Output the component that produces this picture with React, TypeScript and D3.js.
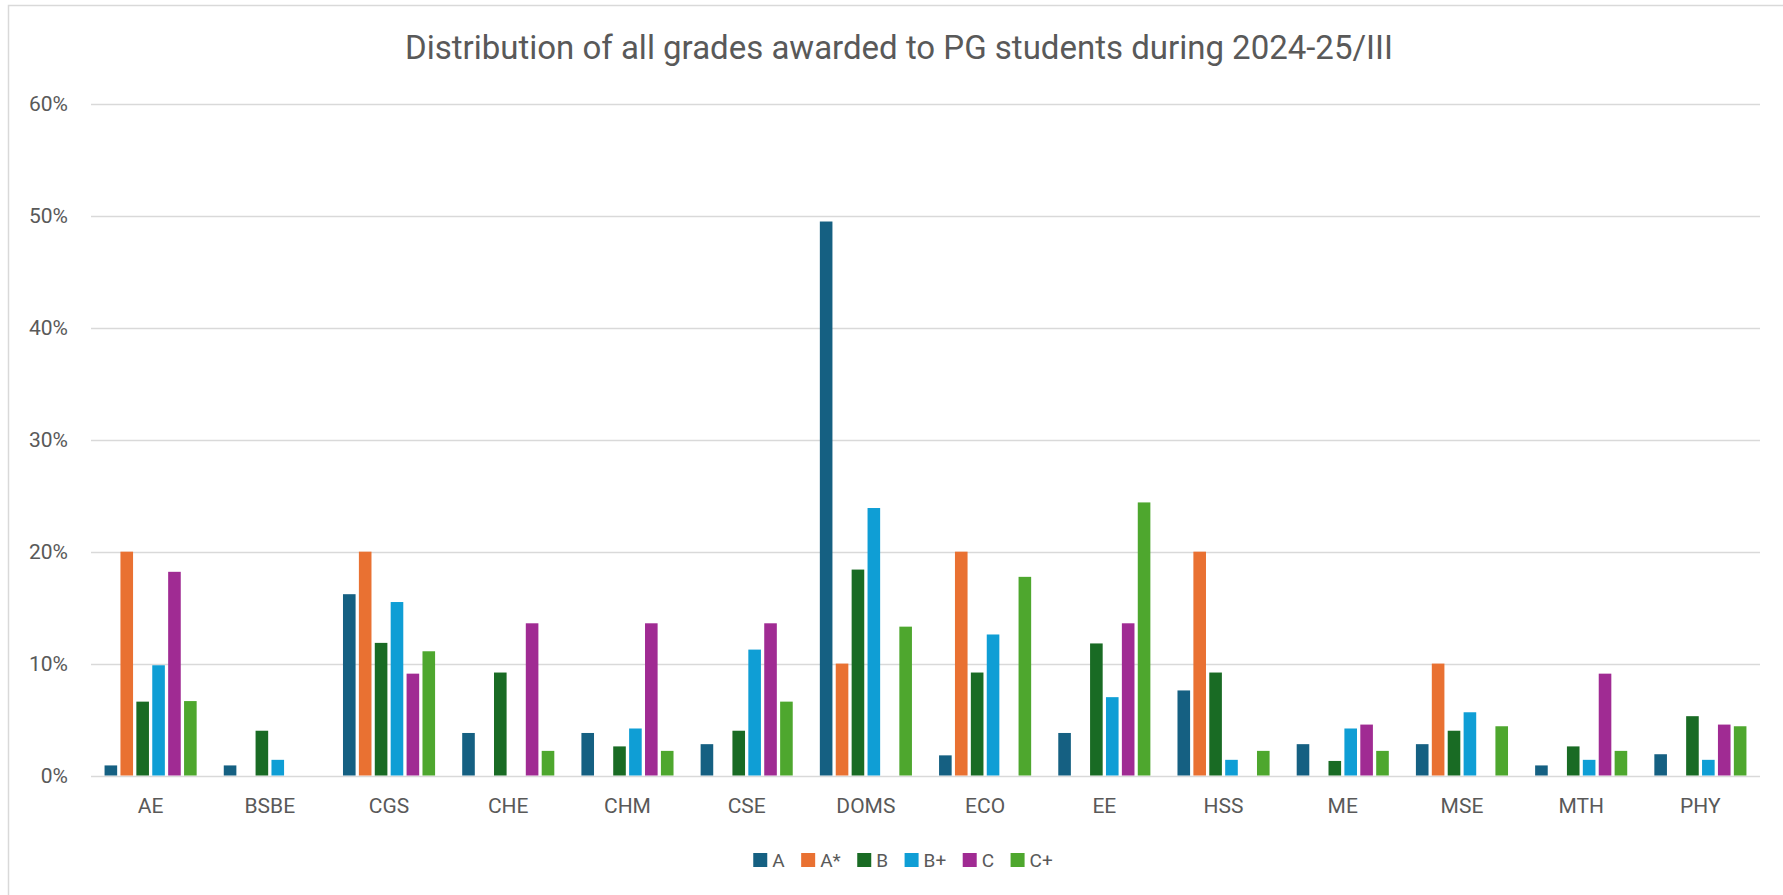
import React, { useEffect, useRef } from "react";
import * as d3 from "d3";

const categories = ["AE", "BSBE", "CGS", "CHE", "CHM", "CSE", "DOMS", "ECO", "EE", "HSS", "ME", "MSE", "MTH", "PHY"];
const seriesNames = ["A", "A*", "B", "B+", "C", "C+"];
const seriesColors = ["#156082", "#E97132", "#196B24", "#0F9ED5", "#A02B93", "#4EA72E"];

// values in percent, per series, aligned with categories
const gradeA = [0.9, 0.9, 16.2, 3.8, 3.8, 2.8, 49.5, 1.8, 3.8, 7.6, 2.8, 2.8, 0.9, 1.9];
const gradeAStar = [20, 0, 20, 0, 0, 0, 10, 20, 0, 20, 0, 10, 0, 0];
const gradeB = [6.6, 4.0, 11.85, 9.2, 2.6, 4.0, 18.4, 9.2, 11.8, 9.2, 1.3, 4.0, 2.6, 5.3];
const gradeBPlus = [9.85, 1.4, 15.5, 0, 4.2, 11.25, 23.9, 12.6, 7.0, 1.4, 4.2, 5.65, 1.4, 1.4];
const gradeC = [18.2, 0, 9.1, 13.6, 13.6, 13.6, 0, 0, 13.6, 0, 4.55, 0, 9.1, 4.55];
const gradeCPlus = [6.65, 0, 11.1, 2.2, 2.2, 6.6, 13.3, 17.75, 24.4, 2.2, 2.2, 4.4, 2.2, 4.4];

const seriesValues = [gradeA, gradeAStar, gradeB, gradeBPlus, gradeC, gradeCPlus];
const yTicks = [0, 10, 20, 30, 40, 50, 60];
const title = "Distribution of all grades awarded to PG students during 2024-25/III";

const W = 1783;
const H = 895;
const TEXT = "#595959";
const GRID = "#d9d9d9";
const FONT = "Roboto, 'Liberation Sans', Arial, sans-serif";

export default function App() {
  const ref = useRef<SVGSVGElement | null>(null);

  useEffect(() => {
    const svg = d3.select(ref.current);
    svg.selectAll("*").remove();

    const left = 91, right = 1760, top = 104, bottom = 775.5;

    // chart frame (top & left visible)
    svg.append("path")
      .attr("d", `M8.5,${H} L8.5,5.5 L${W},5.5`)
      .attr("fill", "none").attr("stroke", GRID).attr("stroke-width", 1.5);

    // title
    svg.append("text")
      .attr("x", 899).attr("y", 59)
      .attr("text-anchor", "middle")
      .attr("font-family", FONT).attr("font-size", 33).attr("fill", TEXT)
      .attr("textLength", 988).attr("lengthAdjust", "spacingAndGlyphs")
      .text(title);

    const y = d3.scaleLinear().domain([0, 60]).range([bottom, top]);
    const x0 = d3.scaleBand<string>().domain(categories).range([left, right]).paddingInner(0).paddingOuter(0);
    const step = 15.9, barW = 12.6;
    const groupW = 5 * step + barW;
    const x1 = d3.scaleBand<string>().domain(seriesNames).range([0, groupW])
      .paddingInner((step - barW) / step).paddingOuter(0);

    // gridlines
    const g = svg.append("g");
    g.selectAll("line.grid").data(yTicks).join("line")
      .attr("x1", left).attr("x2", right)
      .attr("y1", d => Math.round(y(d)) + 0.5).attr("y2", d => Math.round(y(d)) + 0.5)
      .attr("stroke", GRID).attr("stroke-width", 1.3);

    // y tick labels
    g.selectAll("text.yt").data(yTicks).join("text")
      .attr("x", 68).attr("y", d => y(d) + 7)
      .attr("text-anchor", "end")
      .attr("font-family", FONT).attr("font-size", 21).attr("fill", TEXT)
      .text(d => `${d}%`);

    // bars
    const groups = svg.append("g").selectAll("g.cat").data(categories).join("g")
      .attr("transform", c => `translate(${x0(c)! + (x0.bandwidth() - groupW) / 2},0)`);
    groups.selectAll("rect").data((c, ci) => seriesNames.map((s, si) => ({ s, si, v: seriesValues[si][categories.indexOf(c)] })))
      .join("rect")
      .filter(d => d.v > 0)
      .attr("x", d => x1(d.s)!)
      .attr("width", x1.bandwidth())
      .attr("y", d => y(d.v))
      .attr("height", d => y(0) - y(d.v))
      .attr("fill", d => seriesColors[d.si]);

    // x labels
    svg.append("g").selectAll("text").data(categories).join("text")
      .attr("x", c => x0(c)! + x0.bandwidth() / 2)
      .attr("y", 813)
      .attr("text-anchor", "middle")
      .attr("font-family", FONT).attr("font-size", 21).attr("fill", TEXT)
      .text(c => c);

    // legend
    const leg = svg.append("g");
    const items = leg.selectAll("g").data(seriesNames).join("g");
    items.append("rect").attr("width", 14).attr("height", 14).attr("y", 853)
      .attr("fill", (d, i) => seriesColors[i]);
    items.append("text").attr("y", 867).attr("font-family", FONT).attr("font-size", 19).attr("fill", TEXT)
      .text(d => d);
    let xpos = 0;
    const positions: number[] = [];
    items.each(function () {
      const t = d3.select(this).select("text").node() as SVGTextElement;
      const tw = t.getComputedTextLength();
      positions.push(xpos);
      xpos += 14 + 5 + tw + 16.5;
    });
    const totalW = xpos - 16.5;
    const startX = 903 - totalW / 2;
    items.each(function (d, i) {
      const gi = d3.select(this);
      gi.select("rect").attr("x", startX + positions[i]);
      gi.select("text").attr("x", startX + positions[i] + 19);
    });
  }, []);

  return (
    <svg ref={ref} width={W} height={H}
      style={{ position: "absolute", left: 0, top: 0, background: "#fff" }} />
  );
}
